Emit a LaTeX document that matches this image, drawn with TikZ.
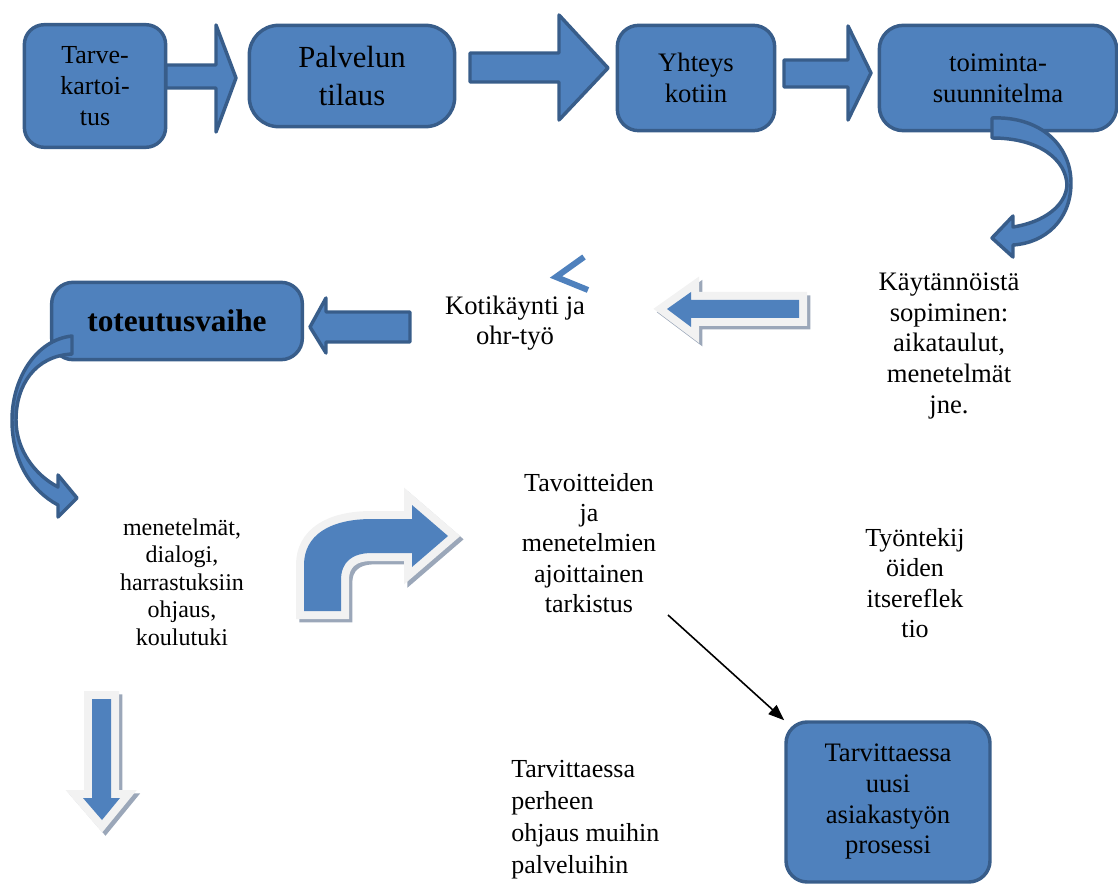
\documentclass[tikz,border=0pt]{standalone}
\usepackage{fontspec}
\setmainfont{Liberation Serif}
\usetikzlibrary{arrows.meta}

\definecolor{boxblue}{HTML}{4F81BD}
\definecolor{boxline}{HTML}{385D8A}
\definecolor{rim}{HTML}{F2F2F2}
\definecolor{rimshadow}{HTML}{9BA7B9}

\tikzset{
    box/.style={draw=boxline, fill=boxblue, line width=2.6pt, rounded corners=16pt,
        align=center, inner sep=0pt},
    blok/.style={draw=boxline, fill=boxblue, line width=2.6pt, line join=round},
    hollowblok/.style={fill=boxblue,
        preaction={draw=rimshadow, fill=rimshadow, line width=12pt,
            transform canvas={xshift=2.5pt, yshift=-2.5pt}},
        preaction={draw=rim, fill=rim, line width=12pt}},
    lbl/.style={align=center, inner sep=0pt},
    tekst/.style={font=\fontsize{20}{23}\selectfont},
}

\begin{document}
\begin{tikzpicture}[x=0.75pt, y=-0.75pt]
    \useasboundingbox (0,0) rectangle (1118,884);

    % first row
    \node[box, rounded corners=15pt, minimum width=106pt, minimum height=92pt,
        font=\fontsize{19.5}{23.5}\selectfont] (tarve) at (95,86) {Tarve-\\kartoi-\\tus};
    \node[box, rounded corners=22pt, minimum width=154pt, minimum height=76pt,
        font=\fontsize{23}{28}\selectfont] (tilaus) at (352,76) {Palvelun\\tilaus};
    \node[box, minimum width=118pt, minimum height=79pt, tekst] (yhteys) at (696,78) {Yhteys\\kotiin};
    \node[box, rounded corners=18pt, minimum width=178pt, minimum height=79pt, tekst] (suunnitelma) at (998,78) {toiminta-\\suunnitelma};

    % block arrows between the steps
    \draw[blok] (166,65) -- (216,65) -- (216,25) -- (236,78) -- (216,132) -- (216,88) -- (166,88) -- cycle;
    \draw[blok] (470,53) -- (559,53) -- (559,15) -- (608,68) -- (559,120) -- (559,82) -- (470,82) -- cycle;
    \draw[blok] (784,60) -- (848,60) -- (848,26) -- (871,73) -- (848,120) -- (848,87) -- (784,87) -- cycle;

    % curved arrow down from suunnitelma
    \draw[blok] (992,118) .. controls (1040,116) and (1071,145) .. (1071,183)
        .. controls (1071,220) and (1045,243) .. (1013,245) -- (1013,257) -- (992,238)
        -- (1013,216) -- (1013,227) .. controls (1045,222) and (1066,205) .. (1067,185)
        .. controls (1066,160) and (1040,138) .. (992,138) -- cycle;

    % second row
    \node[box, rounded corners=16pt, minimum width=188pt, minimum height=58pt,
        font=\bfseries\fontsize{23.5}{28}\selectfont] (toteutus) at (177,321) {toteutusvaihe};
    \node[lbl, tekst] (kotikaynti) at (515,323) {Kotikäynti ja\\ohr-työ};
    \node[lbl, tekst] (sopiminen) at (949,346) {Käytännöistä\\sopiminen:\\aikataulut,\\menetelmät\\jne.};

    \draw[blok] (410,312) -- (326,312) -- (326,298) -- (310,327) -- (326,353) -- (326,342) -- (410,342) -- cycle;
    \path[hollowblok] (799,300) -- (691,300) -- (691,292) -- (667,309) -- (691,327) -- (691,318) -- (799,318) -- cycle;
    \draw[boxblue, line width=4.5pt] (584,257) -- (556,277) -- (588,290);

    % curved arrow down from toteutus
    \draw[blok] (72,336) .. controls (35,340) and (12,380) .. (12,420)
        .. controls (12,460) and (30,490) .. (58,505) -- (58,517) -- (77,498)
        -- (58,475) -- (58,487) .. controls (35,475) and (16,450) .. (16,420)
        .. controls (16,385) and (35,356) .. (72,354) -- cycle;

    % third row
    \node[lbl, font=\fontsize{18}{20.6}\selectfont] (keinot) at (182,582) {menetelmät,\\dialogi,\\harrastuksiin\\ohjaus,\\koulutuki};
    \node[lbl, font=\fontsize{19.5}{22.7}\selectfont] (tarkistus) at (589,543) {Tavoitteiden\\ja\\menetelmien\\ajoittainen\\tarkistus};
    \node[lbl, font=\fontsize{19.5}{22.7}\selectfont] (reflektio) at (915,583) {Työntekij\\öiden\\itsereflek\\tio};
    \path[hollowblok] (304,611) -- (304,565) .. controls (304,535) and (330,519) .. (372,519) -- (412,519)
        -- (412,505) -- (448,536) -- (412,567) -- (412,553) -- (372,553)
        .. controls (352,553) and (341,562) .. (341,580) -- (341,611) -- cycle;

    % bottom row
    \path[hollowblok] (92,699) -- (111,699) -- (111,798) -- (120,798) -- (102,820) -- (83,798) -- (92,798) -- cycle;
    \node[lbl, align=left, anchor=west, font=\fontsize{19.5}{24}\selectfont] (ohjaus) at (511,820) {Tarvittaessa\\perheen\\ohjaus muihin\\palveluihin};
    \node[box, minimum width=153pt, minimum height=120pt, tekst] (uusi) at (888,802) {Tarvittaessa\\uusi\\asiakastyön\\prosessi};
    \coordinate (tarkloppu) at (668,615);
    \draw[line width=1.2pt, -{Triangle[length=12pt, width=9pt]}] (tarkloppu) -- (uusi.north west);
\end{tikzpicture}
\end{document}
